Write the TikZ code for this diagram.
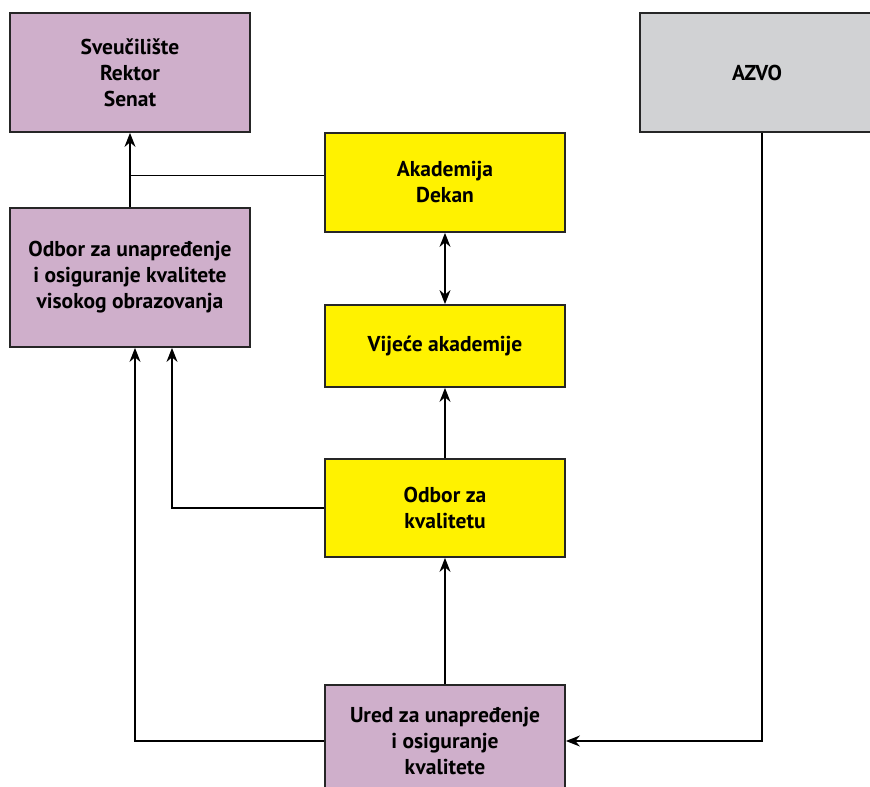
\documentclass[tikz,border=0pt]{standalone}
\usepackage{fontspec}
\setmainfont{PT Sans}
\usetikzlibrary{arrows.meta,positioning}
\definecolor{ljub}{RGB}{207,175,203}
\definecolor{zut}{RGB}{255,242,0}
\definecolor{siv}{RGB}{209,210,212}
\begin{document}
\begin{tikzpicture}[x=1pt,y=-1pt,>={Stealth[length=14pt,width=11pt,inset=4.5pt]},
  kutija/.style={draw=black!85,line width=1.8pt,minimum width=240pt,align=center,
    font=\fontsize{21.5}{26}\selectfont\bfseries},
  veza/.style={line width=1.4pt,->}]
\clip (0,0) rectangle (870,787);
\fill[white] (0,0) rectangle (870,787);
% kutije
\node[kutija,fill=ljub,minimum height=119pt] (sven) at (130,72.5) {Sveučilište\\Rektor\\Senat};
\node[kutija,fill=siv,minimum width=234pt,minimum height=119pt] (azvo) at (757,72.5) {AZVO};
\node[kutija,fill=ljub,minimum height=139pt] (odbor) at (130,277.5) {Odbor za unapređenje\\i osiguranje kvalitete\\visokog obrazovanja};
\node[kutija,fill=zut,minimum height=99pt] (akad) at (445,182.5) {Akademija\\Dekan};
\node[kutija,fill=zut,minimum height=82pt] (vijece) at (445,346) {Vijeće akademije};
\node[kutija,fill=zut,minimum height=98pt] (kval) at (445,508) {Odbor za\\kvalitetu};
\node[kutija,fill=ljub,minimum height=112pt] (ured) at (445,741) {Ured za unapređenje\\i osiguranje\\kvalitete};
% veze
\draw[veza] (odbor.north) -- (sven.south);
\draw[line width=1.4pt] ([yshift=7pt]akad.west) -- ([yshift=7pt]akad.west -| sven.south);
\draw[veza,<->] (akad) -- (vijece);
\draw[veza] (kval) -- (vijece);
\draw[veza] (ured) -- (kval);
\draw[veza] (kval.west) -| ([xshift=42pt]odbor.south);
\draw[veza] (ured.west) -| ([xshift=5pt]odbor.south);
\draw[veza] ([xshift=5pt]azvo.south) |- (ured.east);
\end{tikzpicture}
\end{document}
